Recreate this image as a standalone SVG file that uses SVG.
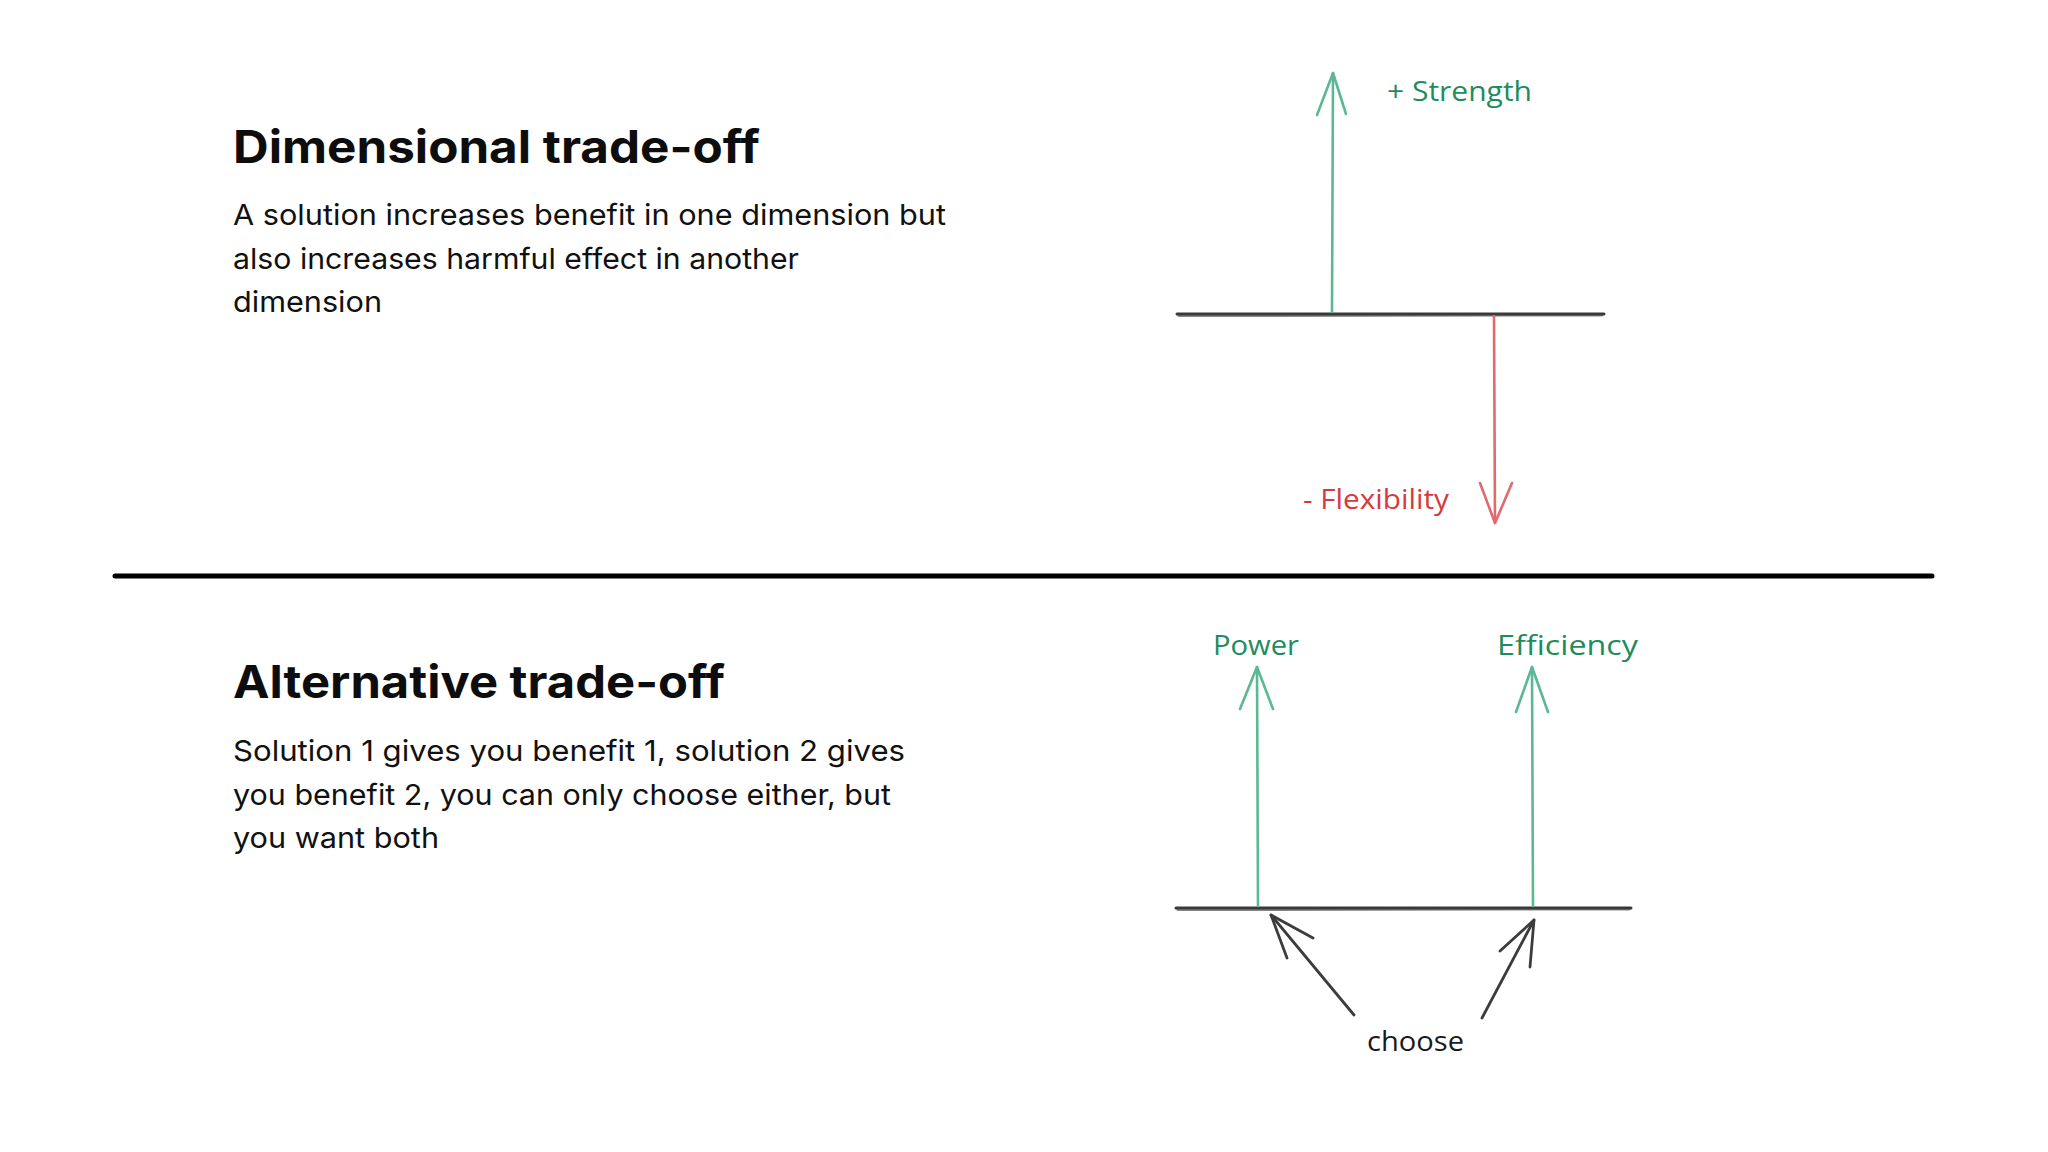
<svg xmlns="http://www.w3.org/2000/svg" width="2048" height="1152" viewBox="0 0 2048 1152">
  <style>
    .title { font-family: Inter, "Liberation Sans", sans-serif; font-weight: 700; font-size: 45px; fill: #0d0d0d; }
    .body { font-family: Inter, "Liberation Sans", sans-serif; font-weight: 400; font-size: 29px; fill: #111111; }
    .hand { font-family: "Open Sans", "DejaVu Sans", sans-serif; font-size: 27px; }
    .g-txt { fill: #1e8c5e; }
    .r-txt { fill: #d63a40; }
    .k-txt { fill: #1a1a1a; }
    .g-ln { stroke: #5cb893; stroke-width: 2.6; fill: none; stroke-linecap: round; stroke-linejoin: round; }
    .r-ln { stroke: #e06a6e; stroke-width: 2.6; fill: none; stroke-linecap: round; stroke-linejoin: round; }
    .k-ln { stroke: #3c3c3c; stroke-width: 2.8; fill: none; stroke-linecap: round; stroke-linejoin: round; }
    .base { stroke: #3a3a3a; stroke-width: 3; fill: none; stroke-linecap: round; }
    .divider { stroke: #000000; stroke-width: 5; stroke-linecap: round; }
  </style>
  <rect width="2048" height="1152" fill="#ffffff"/>

  <g id="section-dimensional">
    <text class="title" x="233" y="163" textLength="527" lengthAdjust="spacingAndGlyphs">Dimensional trade-off</text>
    <text class="body" x="233" y="225" textLength="713" lengthAdjust="spacingAndGlyphs">A solution increases benefit in one dimension but</text>
    <text class="body" x="233" y="268.5" textLength="566" lengthAdjust="spacingAndGlyphs">also increases harmful effect in another</text>
    <text class="body" x="233" y="312" textLength="149" lengthAdjust="spacingAndGlyphs">dimension</text>
  </g>

  <g id="divider">
    <line class="divider" x1="115" y1="576" x2="1932" y2="576"/>
  </g>

  <g id="section-alternative">
    <text class="title" x="233" y="698" textLength="492" lengthAdjust="spacingAndGlyphs">Alternative trade-off</text>
    <text class="body" x="233" y="761" textLength="672" lengthAdjust="spacingAndGlyphs">Solution 1 gives you benefit 1, solution 2 gives</text>
    <text class="body" x="233" y="805" textLength="658" lengthAdjust="spacingAndGlyphs">you benefit 2, you can only choose either, but</text>
    <text class="body" x="233" y="848" textLength="206" lengthAdjust="spacingAndGlyphs">you want both</text>
  </g>

  <g id="label-strength">
    <text class="hand g-txt" x="1387" y="101" textLength="145" lengthAdjust="spacingAndGlyphs">+ Strength</text>
  </g>
  <g id="label-flexibility">
    <text class="hand r-txt" x="1303" y="509" textLength="146" lengthAdjust="spacingAndGlyphs">- Flexibility</text>
  </g>
  <g id="label-power">
    <text class="hand g-txt" x="1213" y="655" textLength="86" lengthAdjust="spacingAndGlyphs">Power</text>
  </g>
  <g id="label-efficiency">
    <text class="hand g-txt" x="1497" y="655" textLength="141" lengthAdjust="spacingAndGlyphs">Efficiency</text>
  </g>
  <g id="label-choose">
    <text class="hand k-txt" x="1367" y="1051" textLength="97" lengthAdjust="spacingAndGlyphs">choose</text>
  </g>

  <g id="connectors">
    <!-- top diagram baseline -->
    <path class="base" d="M1177 314 L1604 314"/>
    <path class="base" d="M1179 315.5 L1602 315" stroke-width="1.2" opacity="0.6"/>
    <!-- strength arrow -->
    <path class="g-ln" d="M1332 312 L1333 73"/>
    <path class="g-ln" d="M1317 115 L1333 73 L1346 114"/>
    <!-- flexibility arrow -->
    <path class="r-ln" d="M1494 316 L1495 523"/>
    <path class="r-ln" d="M1480 483 L1495 523 L1512 483"/>

    <!-- bottom diagram baseline -->
    <path class="base" d="M1176 908 L1631 908"/>
    <path class="base" d="M1178 909.5 L1629 909" stroke-width="1.2" opacity="0.6"/>
    <!-- power arrow -->
    <path class="g-ln" d="M1258 906 L1257 667"/>
    <path class="g-ln" d="M1240 709 L1257 667 L1273 709"/>
    <!-- efficiency arrow -->
    <path class="g-ln" d="M1533 906 L1532 667"/>
    <path class="g-ln" d="M1516 712 L1532 667 L1548 712"/>
    <!-- choose arrows -->
    <path class="k-ln" d="M1354 1015 L1271 915"/>
    <path class="k-ln" d="M1287 958 L1271 915 L1313 938"/>
    <path class="k-ln" d="M1482 1018 L1534 920"/>
    <path class="k-ln" d="M1500 951 L1534 920 L1530 967"/>
  </g>
</svg>
